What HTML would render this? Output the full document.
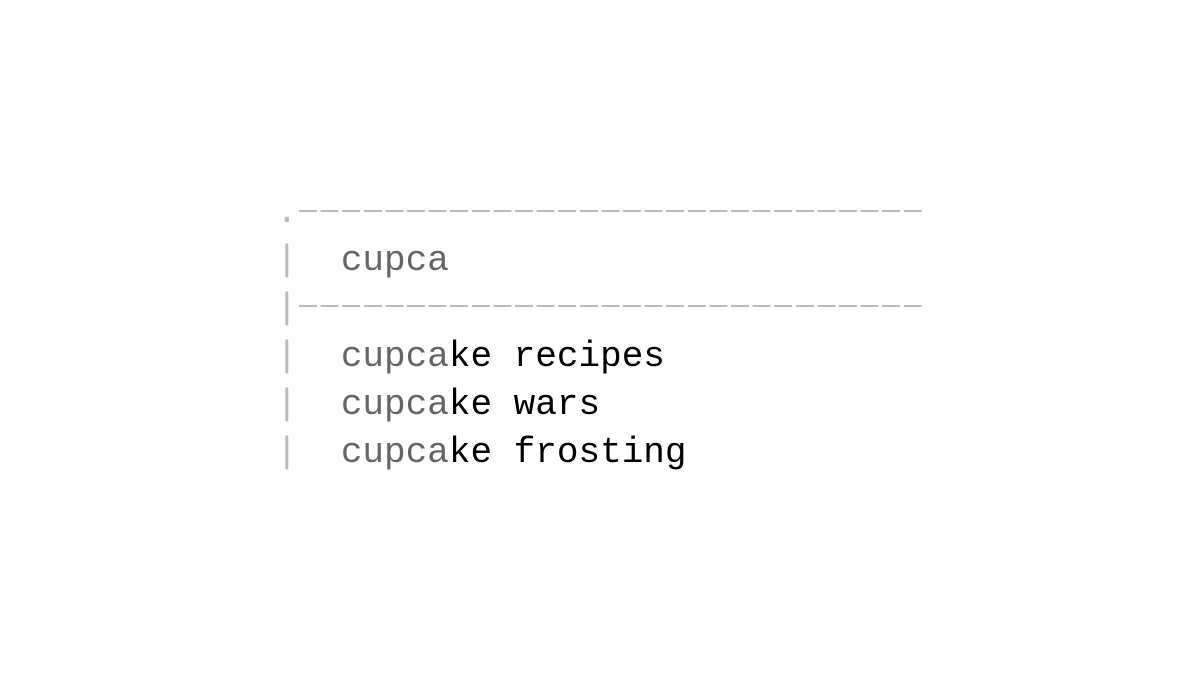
<!DOCTYPE html>
<html><head><meta charset="utf-8"><style>
html,body{margin:0;padding:0;background:#fff;width:1200px;height:676px;overflow:hidden}
pre{position:absolute;left:276px;top:189px;margin:0;font-family:"Liberation Mono",monospace;font-size:36px;line-height:48px;color:#000}
.g{color:#bbb}.m{color:#666}
.d{position:absolute;height:2px;background:repeating-linear-gradient(90deg,#bbb 0 18px,transparent 18px 21.6px)}
</style></head><body>
<pre><span class="g">.</span>
<span class="g">|</span>  <span class="m">cupca</span>
<span class="g">|</span>
<span class="g">|</span>  <span class="m">cupca</span>ke recipes
<span class="g">|</span>  <span class="m">cupca</span>ke wars
<span class="g">|</span>  <span class="m">cupca</span>ke frosting</pre>
<div class="d" style="left:299px;top:210px;width:624px"></div>
<div class="d" style="left:299px;top:305px;width:624px"></div>
</body></html>
